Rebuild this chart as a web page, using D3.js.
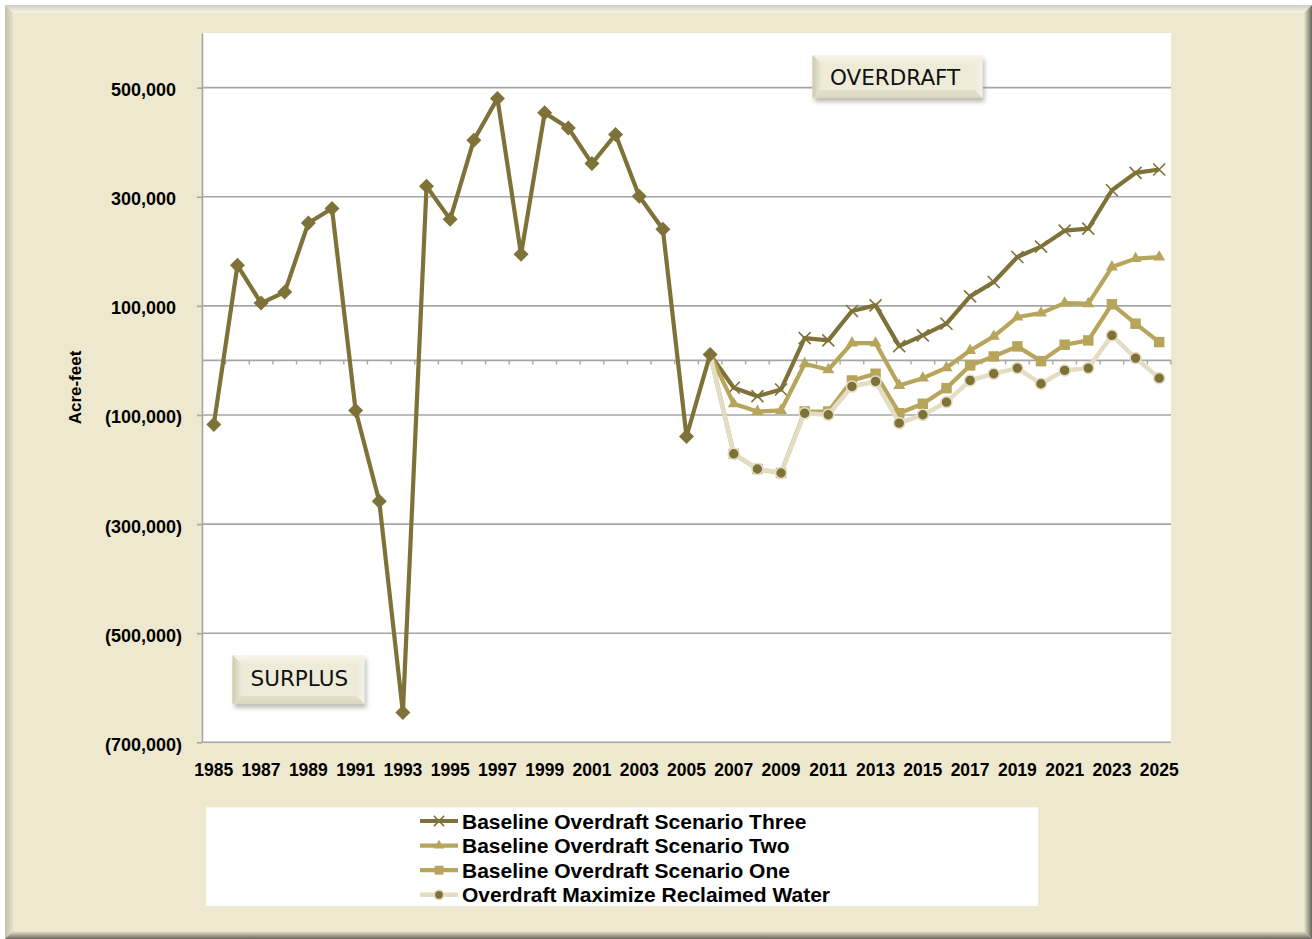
<!DOCTYPE html>
<html>
<head>
<meta charset="utf-8">
<script src="https://cdn.jsdelivr.net/npm/d3@7"></script>
<style>
body{margin:0;background:#fff;}
svg{display:block;font-family:"Liberation Sans",Arial,sans-serif;}
</style>
</head>
<body>
<div id="viz"></div>
<script>

var years = [1985,1986,1987,1988,1989,1990,1991,1992,1993,1994,1995,1996,1997,1998,1999,2000,2001,2002,2003,2004,2005,2006,2007,2008,2009,2010,2011,2012,2013,2014,2015,2016,2017,2018,2019,2020,2021,2022,2023,2024,2025];
var xLabels = [1985,1987,1989,1991,1993,1995,1997,1999,2001,2003,2005,2007,2009,2011,2013,2015,2017,2019,2021,2023,2025];
var yTicks = [-700000,-500000,-300000,-100000,100000,300000,500000];

// actual overdraft (diamonds), 1985-2006
var histYears = [1985,1986,1987,1988,1989,1990,1991,1992,1993,1994,1995,1996,1997,1998,1999,2000,2001,2002,2003,2004,2005,2006];
var histValues = [-117400,174300,105100,125300,251900,278400,-91700,-258200,-645300,319300,258600,403700,480200,194500,453800,426200,360900,414100,300900,240400,-139500,11000];

// projections, 2006-2025
var projYears = [2006,2007,2008,2009,2010,2011,2012,2013,2014,2015,2016,2017,2018,2019,2020,2021,2022,2023,2024,2025];
var scenarioThree = [11000,-50100,-65500,-53200,40900,36700,90500,100900,26200,45900,67300,117400,143700,189500,208600,237900,241700,311900,343700,349900];
var scenarioTwo = [11000,-79500,-93600,-91700,-6100,-17100,31700,31700,-45900,-32500,-13400,18300,44000,79500,86800,105100,104000,171200,186600,189500];
var scenarioOne = [11000,-171200,-199000,-206300,-93600,-93600,-36700,-24400,-96700,-79500,-50800,-9200,7300,25700,-1300,28800,36700,103000,67300,33600];
var reclaimed = [11000,-171200,-199000,-206300,-96700,-99600,-47700,-38500,-115000,-99600,-76500,-36700,-24400,-14100,-42800,-18300,-14100,45900,4300,-32500];

var seriesNames = ["Baseline Overdraft Scenario Three","Baseline Overdraft Scenario Two","Baseline Overdraft Scenario One","Overdraft Maximize Reclaimed Water"];

var dark = "#7e7238", tan = "#b8a55c", pale = "#e3ddc3", cream = "#eee8ce";

var width = 1312, height = 939;

var svg = d3.select("#viz").append("svg")
	.attr("width",width)
	.attr("height",height);

var defs = svg.append("defs");

function grad(id,x1,y1,x2,y2,c1,c2){
	var g = defs.append("linearGradient").attr("id",id)
		.attr("x1",x1).attr("y1",y1).attr("x2",x2).attr("y2",y2);
	g.append("stop").attr("offset","0%").attr("stop-color",c1);
	g.append("stop").attr("offset","100%").attr("stop-color",c2);
}
grad("gTop",0,0,0,1,"#cfcdc2","#f8f5e8");
grad("gLeft",0,0,1,0,"#c2bfb0","#e6e0c4");
grad("gRight",0,0,1,0,cream,"#66665a");
grad("gBottom",0,0,0,1,cream,"#66665a");
grad("bLeft",0,0,1,0,"#cfc9ad","#e9e5d1");
grad("bTop",0,0,0,1,"#f7f5ec","#efecdc");
grad("bRight",0,0,1,0,"#efecdd","#f4f2e6");
grad("bBottom",0,0,0,1,"#e4dfc8","#dcd7bf");

var shadow = defs.append("filter").attr("id","shadow")
	.attr("x","-20%").attr("y","-20%").attr("width","140%").attr("height","160%");
shadow.append("feGaussianBlur").attr("stdDeviation",2.2);

// outer frame
var X0 = 5, Y0 = 5, X1 = 1312, Y1 = 939, b = 8;
svg.append("rect").attr("x",X0).attr("y",Y0).attr("width",X1-X0).attr("height",Y1-Y0).attr("fill",cream);
var bevel = [
	["gTop",[[X0,Y0],[X1,Y0],[X1-b,Y0+b],[X0+b,Y0+b]]],
	["gLeft",[[X0,Y0],[X0+b,Y0+b],[X0+b,Y1-b],[X0,Y1]]],
	["gRight",[[X1-b,Y0+b],[X1,Y0],[X1,Y1],[X1-b,Y1-b]]],
	["gBottom",[[X0+b,Y1-b],[X1-b,Y1-b],[X1,Y1],[X0,Y1]]]
];
svg.selectAll("polygon.frame")
	.data(bevel)
	.enter()
	.append("polygon")
	.attr("class","frame")
	.attr("points",d=>d[1].join(" "))
	.attr("fill",d=>"url(#"+d[0]+")");

var plotL = 202, plotR = 1171, plotT = 33.1, plotB = 742.3;

var x = d3.scaleBand().domain(years).range([plotL,plotR]);
var cx = d=>x(d)+x.bandwidth()/2;
var y = d3.scaleLinear().domain([-700000,600000]).range([plotB,plotT]);

svg.append("rect")
	.attr("x",plotL).attr("y",plotT)
	.attr("width",plotR-plotL).attr("height",plotB-plotT)
	.attr("fill","#fff");

// gridlines
svg.selectAll("line.grid")
	.data(yTicks)
	.enter()
	.append("line")
	.attr("class","grid")
	.attr("x1",plotL).attr("x2",plotR)
	.attr("y1",d=>y(d)).attr("y2",d=>y(d))
	.attr("stroke","#a6a6a6")
	.attr("stroke-width",1.6);

// y axis
var fmt = d3.format(",");
var yAxis = svg.append("g")
	.attr("transform","translate("+plotL+",0)")
	.call(d3.axisLeft(y).tickValues(yTicks).tickSize(5).tickPadding(15).tickSizeOuter(0)
		.tickFormat(d=>d<0 ? "("+fmt(-d)+")" : fmt(d)));
yAxis.select(".domain").attr("stroke","#a6a6a6").attr("stroke-width",1.6);
yAxis.selectAll(".tick line").attr("stroke","#a6a6a6").attr("stroke-width",1.6);
yAxis.selectAll(".tick text")
	.attr("fill","#000")
	.attr("font-size",18)
	.attr("font-weight","bold")
	.attr("font-family","'Liberation Sans',Arial,sans-serif")
	.attr("dy","0.44em")
	.attr("dx",d=>d>0 ? "-0.333em" : 0);

// zero line with category ticks
svg.append("line")
	.attr("x1",plotL).attr("x2",plotR)
	.attr("y1",y(0)).attr("y2",y(0))
	.attr("stroke","#a6a6a6")
	.attr("stroke-width",1.6);
svg.selectAll("line.ztick")
	.data(years.slice(1).concat(["end"]))
	.enter()
	.append("line")
	.attr("class","ztick")
	.attr("x1",d=>d=="end" ? plotR : x(d))
	.attr("x2",d=>d=="end" ? plotR : x(d))
	.attr("y1",y(0)).attr("y2",y(0)+4)
	.attr("stroke","#a6a6a6")
	.attr("stroke-width",1.4);

// x labels
var xAxis = svg.append("g")
	.attr("transform","translate(0,"+plotB+")")
	.call(d3.axisBottom(x).tickValues(xLabels).tickSize(0).tickPadding(21));
xAxis.select(".domain").remove();
xAxis.selectAll(".tick text")
	.attr("fill","#000")
	.attr("font-size",17.5)
	.attr("font-weight","bold")
	.attr("font-family","'Liberation Sans',Arial,sans-serif");

svg.append("text")
	.attr("transform","translate(80.5,387.5) rotate(-90)")
	.attr("text-anchor","middle")
	.attr("font-size",17)
	.attr("font-weight","bold")
	.text("Acre-feet");

// series
var line = d3.line().x(d=>cx(d[0])).y(d=>y(d[1]));
function pairs(ys,vs){ return ys.map((yr,i)=>[yr,vs[i]]); }

var diamond = "M0,-7.5L7.5,0L0,7.5L-7.5,0Z";
var cross = "M-6,-6L6,6M-6,6L6,-6";
var tri = d3.symbol(d3.symbolTriangle,62)();
var sq = d3.symbol(d3.symbolSquare,110)();

var series = [
	{values:scenarioThree, color:dark, width:4.2, marker:"cross"},
	{values:scenarioTwo, color:tan, width:4.2, marker:"tri"},
	{values:scenarioOne, color:tan, width:4.2, marker:"sq"},
	{values:reclaimed, color:pale, width:4.5, marker:"circle"}
];

function drawMarker(g,type,size){
	var s = size || 1;
	if (type=="cross"){
		g.append("path").attr("d",cross).attr("transform","scale("+s+")")
			.attr("stroke",dark).attr("stroke-width",1.6/s).attr("fill","none");
	} else if (type=="tri"){
		g.append("path").attr("d",tri).attr("transform","scale("+s+")").attr("fill",tan);
	} else if (type=="sq"){
		g.append("path").attr("d",sq).attr("transform","scale("+s+")").attr("fill",tan);
	} else if (type=="circle"){
		g.append("circle").attr("r",5.5*s).attr("fill",dark)
			.attr("stroke",pale).attr("stroke-width",1.6);
	}
}

series.forEach(s=>{
	var pts = pairs(projYears,s.values);
	svg.append("path")
		.datum(pts)
		.attr("d",line)
		.attr("fill","none")
		.attr("stroke",s.color)
		.attr("stroke-width",s.width)
		.attr("stroke-linejoin","round");
	svg.selectAll(null)
		.data(pts.slice(1))
		.enter()
		.append("g")
		.attr("transform",d=>"translate("+cx(d[0])+","+y(d[1])+")")
		.each(function(){ drawMarker(d3.select(this),s.marker); });
});

var hist = pairs(histYears,histValues);
svg.append("path")
	.datum(hist)
	.attr("d",line)
	.attr("fill","none")
	.attr("stroke",dark)
	.attr("stroke-width",4.2)
	.attr("stroke-linejoin","round");
svg.selectAll("path.dia")
	.data(hist)
	.enter()
	.append("path")
	.attr("class","dia")
	.attr("d",diamond)
	.attr("transform",d=>"translate("+cx(d[0])+","+y(d[1])+")")
	.attr("fill",dark);

// bevelled label boxes
function button(x0,y0,w,h,label,tx,ty){
	var g = svg.append("g");
	var e = 8, x1 = x0+w, y1 = y0+h;
	g.append("rect").attr("x",x0+2).attr("y",y0+4).attr("width",w).attr("height",h)
		.attr("fill","#8a8a80").attr("opacity",0.55).attr("filter","url(#shadow)");
	g.append("rect").attr("x",x0).attr("y",y0).attr("width",w).attr("height",h).attr("fill","#eeebd8");
	var sides = [
		["bTop",[[x0,y0],[x1,y0],[x1-e,y0+e],[x0+e,y0+e]]],
		["bLeft",[[x0,y0],[x0+e,y0+e],[x0+e,y1-e],[x0,y1]]],
		["bRight",[[x1-e,y0+e],[x1,y0],[x1,y1],[x1-e,y1-e]]],
		["bBottom",[[x0+e,y1-e],[x1-e,y1-e],[x1,y1],[x0,y1]]]
	];
	g.selectAll("polygon")
		.data(sides)
		.enter()
		.append("polygon")
		.attr("points",d=>d[1].join(" "))
		.attr("fill",d=>"url(#"+d[0]+")");
	g.append("text")
		.attr("x",tx).attr("y",ty)
		.attr("font-family","'DejaVu Sans',Verdana,sans-serif")
		.attr("font-size",21.5)
		.attr("fill","#111")
		.text(label);
}
button(812.5,55,170,43,"OVERDRAFT",830,85);
button(232.5,655,132,49,"SURPLUS",250.5,685.5);

// legend
svg.append("rect")
	.attr("x",206).attr("y",807.3)
	.attr("width",832).attr("height",98.7)
	.attr("fill","#fff");

var legend = svg.selectAll("g.legend")
	.data(series)
	.enter()
	.append("g")
	.attr("class","legend")
	.attr("transform",(d,i)=>"translate(0,"+(821+i*24.6)+")");
legend.append("line")
	.attr("x1",420).attr("x2",458)
	.attr("stroke",d=>d.color)
	.attr("stroke-width",d=>d.width);
legend.append("g")
	.attr("transform","translate(439,0)")
	.each(function(d){ drawMarker(d3.select(this),d.marker,0.85); });
legend.append("text")
	.attr("x",462)
	.attr("y",7.5)
	.attr("font-size",21)
	.attr("font-weight","bold")
	.text((d,i)=>seriesNames[i]);

</script>
</body>
</html>
